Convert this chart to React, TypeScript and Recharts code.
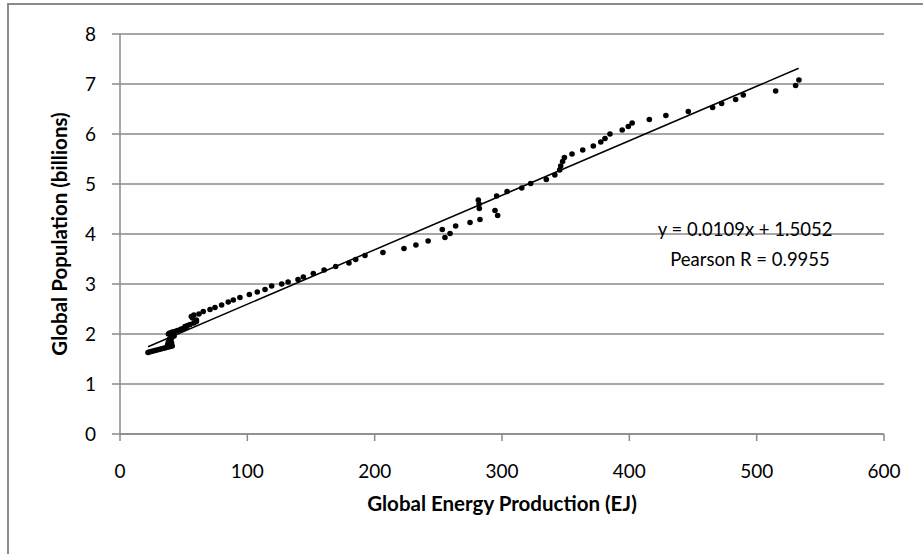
import React from "react";
import {
  ScatterChart,
  Scatter,
  XAxis,
  YAxis,
  CartesianGrid,
  ReferenceLine,
  Label,
} from "recharts";

// energy production (EJ)
const energy = [
  22, 23, 24.5, 26, 27.5, 29, 30.5, 32, 33.5, 35, 36.5, 38, 39.5, 41, 40, 38.5, 37.5, 38, 39, 40.5,
  38, 39, 40, 39, 40, 41, 42.5, 41, 38, 39, 41, 43, 45, 47, 48, 50, 52, 51, 53, 55, 58, 60, 60, 57,
  56, 58, 62, 65.4, 70.7, 74.6, 79.8, 85, 89, 94.2, 101.6, 107.8, 113.9, 119.1, 127, 132, 139.8,
  144, 151.8, 160.3, 169.4, 179.8, 185.1, 192.4, 206.5, 223, 232.4, 242, 253.1, 255.2, 259.2,
  263.6, 274.9, 282.7, 281.4, 282, 282.2, 294.5, 296.6, 295.8, 304, 315.5, 322.5, 334.8, 341.5,
  345.3, 346.1, 347.6, 349, 355, 363.4, 371.7, 377.6, 380.9, 384.8, 394.4, 399.2, 402.2, 415.7,
  428.7, 446.3, 465.4, 472.5, 483.5, 489.5, 514.9, 530.6, 533.2,
];

// population (billions)
const population = [
  1.63, 1.64, 1.65, 1.66, 1.67, 1.68, 1.69, 1.7, 1.71, 1.72, 1.73, 1.74, 1.75, 1.76, 1.77, 1.78,
  1.79, 1.8, 1.81, 1.82, 1.84, 1.86, 1.88, 1.9, 1.92, 1.94, 1.96, 1.98, 2.0, 2.02, 2.04, 2.05, 2.07,
  2.08, 2.1, 2.11, 2.13, 2.15, 2.17, 2.19, 2.22, 2.25, 2.28, 2.32, 2.35, 2.38, 2.4, 2.45, 2.49,
  2.53, 2.58, 2.64, 2.68, 2.73, 2.79, 2.84, 2.89, 2.96, 3.0, 3.04, 3.09, 3.14, 3.21, 3.28, 3.35,
  3.42, 3.49, 3.57, 3.63, 3.71, 3.78, 3.86, 4.09, 3.93, 4.01, 4.16, 4.23, 4.29, 4.68, 4.6, 4.51,
  4.47, 4.37, 4.76, 4.85, 4.92, 5.01, 5.09, 5.18, 5.28, 5.36, 5.45, 5.53, 5.6, 5.68, 5.76, 5.84,
  5.91, 6.0, 6.08, 6.15, 6.22, 6.29, 6.37, 6.45, 6.53, 6.61, 6.69, 6.78, 6.86, 6.97, 7.08,
];

const xTicks = [0, 100, 200, 300, 400, 500, 600];
const yTicks = [0, 1, 2, 3, 4, 5, 6, 7, 8];

// linear fit shown on the chart
const slope = 0.0109;
const intercept = 1.5052;
const fitRange = [22, 533];

const points = energy.map((x, i) => ({ x, y: population[i] }));

const FONT = "Lato, 'Open Sans', sans-serif";
const GRID = "#8a8a8a";

const Dot = (p: any) => <circle cx={p.cx} cy={p.cy} r={2.8} fill="#000" />;

export default function App() {
  return (
    <div
      style={{
        position: "absolute",
        left: 0,
        top: 0,
        width: 923,
        height: 554,
        overflow: "hidden",
        background: "#fff",
        fontFamily: FONT,
      }}
    >
      <div
        style={{
          position: "absolute",
          left: 7,
          top: 3,
          width: 960,
          height: 640,
          border: `2px solid ${GRID}`,
        }}
      />
      <ScatterChart
        width={923}
        height={554}
        margin={{ top: 34, right: 39, bottom: 0, left: 0 }}
        style={{ position: "absolute", left: 0, top: 0 }}
      >
        <CartesianGrid horizontal vertical={false} stroke={GRID} strokeWidth={1.5} />
        <XAxis
          type="number"
          dataKey="x"
          domain={[0, 600]}
          ticks={xTicks}
          height={120}
          tickSize={7}
          tickMargin={24}
          stroke={GRID}
          strokeWidth={1.5}
          tick={{ fill: "#000", fontSize: 19, fontFamily: FONT }}
        >
          <Label
            content={({ viewBox }: any) => (
              <text
                x={viewBox.x + viewBox.width / 2}
                y={viewBox.y + 69}
                textAnchor="middle"
                dominantBaseline="central"
                fontFamily={FONT}
                fontWeight="bold"
                fontSize={20.5}
                fill="#000"
              >
                Global Energy Production (EJ)
              </text>
            )}
          />
        </XAxis>
        <YAxis
          type="number"
          dataKey="y"
          domain={[0, 8]}
          ticks={yTicks}
          width={120}
          tickSize={8}
          tickMargin={16}
          stroke={GRID}
          strokeWidth={1.5}
          tick={{ fill: "#000", fontSize: 19, fontFamily: FONT }}
        >
          <Label
            content={({ viewBox }: any) => {
              const cx = 59;
              const cy = viewBox.y + viewBox.height / 2;
              return (
                <text
                  x={cx}
                  y={cy}
                  transform={`rotate(-90 ${cx} ${cy})`}
                  textAnchor="middle"
                  dominantBaseline="central"
                  fontFamily={FONT}
                  fontWeight="bold"
                  fontSize={20.5}
                  fill="#000"
                >
                  Global Population (billions)
                </text>
              );
            }}
          />
        </YAxis>
        <ReferenceLine
          segment={[
            { x: fitRange[0], y: slope * fitRange[0] + intercept },
            { x: fitRange[1], y: slope * fitRange[1] + intercept },
          ]}
          stroke="#000"
          strokeWidth={1.5}
          ifOverflow="visible"
        />
        <Scatter data={points} shape={Dot} isAnimationActive={false} />
      </ScatterChart>
      <div
        style={{
          position: "absolute",
          left: 600,
          width: 300,
          top: 214,
          textAlign: "center",
          fontSize: 18.5,
          lineHeight: "30px",
          color: "#000",
        }}
      >
        <div style={{ marginLeft: -10 }}>y = 0.0109x + 1.5052</div>
        <div>Pearson R = 0.9955</div>
      </div>
    </div>
  );
}
